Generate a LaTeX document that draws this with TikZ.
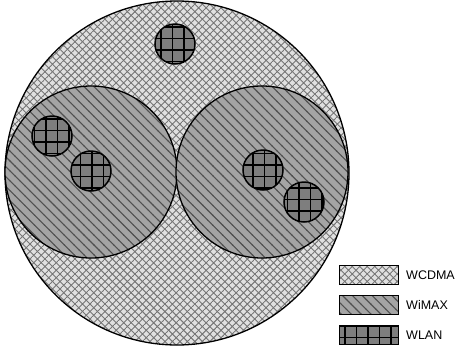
\documentclass[tikz,border=0pt]{standalone}
\usepackage{fontspec}
\setmainfont{Liberation Sans}
\usetikzlibrary{patterns.meta}
\tikzdeclarepattern{
  name=xhatch, type=uncolored,
  bounding box={(-0.5pt,-0.5pt) and (5.8pt,5.8pt)},
  tile size={(5.3pt,5.3pt)},
  tile transformation={rotate=45},
  code={\pgfsetlinewidth{0.9pt}
    \pgfpathmoveto{\pgfpoint{-0.5pt}{0pt}}\pgfpathlineto{\pgfpoint{5.8pt}{0pt}}
    \pgfpathmoveto{\pgfpoint{0pt}{-0.5pt}}\pgfpathlineto{\pgfpoint{0pt}{5.8pt}}
    \pgfusepath{stroke}}
}
\tikzdeclarepattern{
  name=dhatch, type=uncolored,
  bounding box={(-0.5pt,-1pt) and (7.5pt,1pt)},
  tile size={(7pt,7pt)},
  tile transformation={rotate=-45},
  code={\pgfsetlinewidth{1.1pt}
    \pgfpathmoveto{\pgfpoint{-0.5pt}{0pt}}\pgfpathlineto{\pgfpoint{7.5pt}{0pt}}
    \pgfusepath{stroke}}
}
\tikzdeclarepattern{
  name=grid, type=uncolored,
  bounding box={(-1pt,-1pt) and (12pt,12pt)},
  tile size={(11.5pt,11.5pt)},
  code={\pgfsetlinewidth{1.6pt}
    \pgfpathmoveto{\pgfpoint{-1pt}{0pt}}\pgfpathlineto{\pgfpoint{12pt}{0pt}}
    \pgfpathmoveto{\pgfpoint{0pt}{-1pt}}\pgfpathlineto{\pgfpoint{0pt}{12pt}}
    \pgfusepath{stroke}}
}
\definecolor{wcbg}{HTML}{E0E0E0}
\definecolor{wcln}{HTML}{767676}
\definecolor{wmbg}{HTML}{A4A4A4}
\definecolor{wmln}{HTML}{505050}
\definecolor{wlbg}{HTML}{7E7E7E}
\tikzset{
  wcdma/.style={draw=black, line width=1.3pt, preaction={fill=wcbg}, pattern={xhatch}, pattern color=wcln},
  wimax/.style={draw=black, line width=1.3pt, preaction={fill=wmbg}, pattern={dhatch}, pattern color=wmln},
  wlan/.style={draw=black, line width=1.5pt, preaction={fill=wlbg}, pattern={grid}, pattern color=black},
  legbox/.style={line width=0.8pt, minimum width=59pt, minimum height=19pt, inner sep=0pt},
  legtxt/.style={anchor=west, font=\fontsize{12.5}{14}\selectfont, inner sep=0pt}
}
\begin{document}
\begin{tikzpicture}[x=1pt,y=-1pt]
\useasboundingbox (0,0) rectangle (459,349);
\fill[white] (0,0) rectangle (459,349);
\node[wcdma, circle, minimum size=344pt, inner sep=0pt] (big) at (177,173) {};
\node[wimax, circle, minimum size=172pt, inner sep=0pt] (mL) at (91,172) {};
\node[wimax, circle, minimum size=172pt, inner sep=0pt] (mR) at (262,172) {};
\foreach \n/\x/\y in {a/175/44, b/52/136, c/91/171, d/263/170, e/304/202}
  \node[wlan, circle, minimum size=40pt, inner sep=0pt] (\n) at (\x,\y) {};
\node[wcdma, legbox] (k1) at (368.5,275) {};
\node[wimax, legbox] (k2) at (368.5,305) {};
\node[wlan, legbox, line width=0.8pt] (k3) at (368.5,335) {};
\node[legtxt] (t1) at (406,275) {WCDMA};
\node[legtxt] (t2) at (406,305) {WiMAX};
\node[legtxt] (t3) at (406,335) {WLAN};
\end{tikzpicture}
\end{document}
